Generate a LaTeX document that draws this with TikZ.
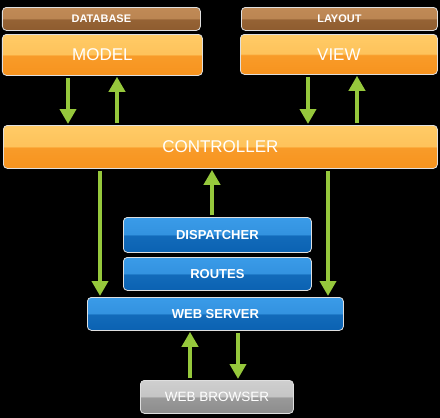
\documentclass[tikz,border=0pt]{standalone}
\usepackage{fontspec}
\setmainfont{Liberation Sans}
\usetikzlibrary{arrows.meta,calc}
\definecolor{browntop}{HTML}{C08A56}
\definecolor{brownbot}{HTML}{8E5C2F}
\definecolor{orangetop}{HTML}{FFCB66}
\definecolor{orangebot}{HTML}{F7931E}
\definecolor{bluetop}{HTML}{3A9BE8}
\definecolor{bluebot}{HTML}{0B62B2}
\definecolor{greytop}{HTML}{CFCFCF}
\definecolor{greybot}{HTML}{8C8C8C}
\definecolor{flowgreen}{HTML}{96C83C}
% glossy two-tone fills
\pgfdeclareverticalshading{glossbrown}{100bp}{color(0bp)=(brownbot); color(25bp)=(brownbot); color(49bp)=(brownbot!85!browntop); color(51bp)=(browntop!90!brownbot); color(75bp)=(browntop); color(100bp)=(browntop)}
\pgfdeclareverticalshading{glossorange}{100bp}{color(0bp)=(orangebot); color(25bp)=(orangebot); color(49bp)=(orangebot!85!orangetop); color(51bp)=(orangetop!85!orangebot); color(75bp)=(orangetop); color(100bp)=(orangetop)}
\pgfdeclareverticalshading{glossblue}{100bp}{color(0bp)=(bluebot); color(25bp)=(bluebot); color(49bp)=(bluebot!85!bluetop); color(51bp)=(bluetop!85!bluebot); color(75bp)=(bluetop); color(100bp)=(bluetop)}
\pgfdeclareverticalshading{glossgrey}{100bp}{color(0bp)=(greybot); color(25bp)=(greybot); color(49bp)=(greybot!80!greytop); color(51bp)=(greytop!85!greybot); color(75bp)=(greytop); color(100bp)=(greytop)}

\begin{document}
\begin{tikzpicture}[x=1pt,y=-1pt,
  box/.style={rounded corners=4pt,draw=white!75!gray,line width=0.8pt,anchor=north west,inner sep=0pt,text=white},
  tag/.style={box,shading=glossbrown,font=\fontsize{11}{12}\selectfont\bfseries},
  layer/.style={box,shading=glossorange,font=\fontsize{17}{19}\selectfont},
  stage/.style={box,shading=glossblue,font=\fontsize{13}{15}\selectfont\bfseries},
  client/.style={box,shading=glossgrey,font=\fontsize{13.5}{15}\selectfont},
  flow/.style={draw=flowgreen,line width=4.5pt,-{Triangle[width=16pt,length=15pt]},shorten <=2pt,shorten >=1pt}]
\fill[black] (0,0) rectangle (440,418);
\useasboundingbox (0,0) rectangle (440,418);

\node[tag,minimum width=198pt,minimum height=23pt] (db) at (2,7) {DATABASE};
\node[layer,minimum width=200pt,minimum height=41pt] (model) at (2,34) {MODEL};
\node[tag,minimum width=196pt,minimum height=23pt] (layout) at (241,7) {LAYOUT};
\node[layer,minimum width=197pt,minimum height=40pt] (view) at (240,34) {VIEW};
\node[layer,minimum width=434pt,minimum height=43pt] (ctrl) at (3,125) {CONTROLLER};
\node[stage,minimum width=188pt,minimum height=35pt] (disp) at (123,217) {DISPATCHER};
\node[stage,minimum width=188pt,minimum height=33pt] (routes) at (123,257) {ROUTES};
\node[stage,minimum width=256pt,minimum height=33pt] (web) at (87,297) {WEB SERVER};
\node[client,minimum width=153pt,minimum height=33pt] (browser) at (140,380) {WEB BROWSER};

\draw[flow] (model.south -| 68,0) -- (ctrl.north -| 68,0);
\draw[flow] (ctrl.north -| 117,0) -- (model.south -| 117,0);
\draw[flow] (view.south -| 308,0) -- (ctrl.north -| 308,0);
\draw[flow] (ctrl.north -| 357,0) -- (view.south -| 357,0);
\draw[flow] (ctrl.south -| 100,0) -- (web.north -| 100,0);
\draw[flow] (disp.north -| 212,0) -- (ctrl.south -| 212,0);
\draw[flow] (ctrl.south -| 328,0) -- (web.north -| 328,0);
\draw[flow] (browser.north -| 190,0) -- (web.south -| 190,0);
\draw[flow] (web.south -| 238,0) -- (browser.north -| 238,0);
\end{tikzpicture}
\end{document}
